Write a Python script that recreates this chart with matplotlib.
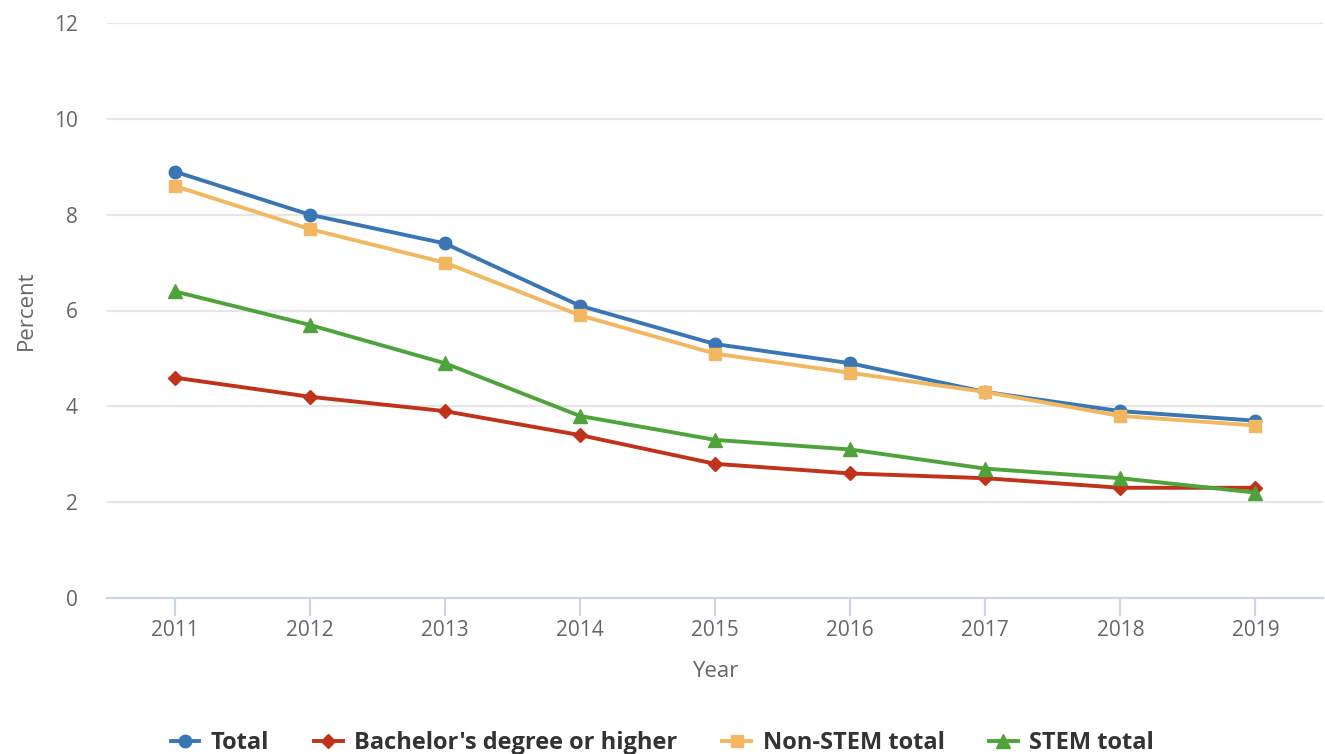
import matplotlib
matplotlib.use("Agg")
from matplotlib import pyplot as plt

years = ["2011", "2012", "2013", "2014", "2015", "2016", "2017", "2018", "2019"]
total = [8.9, 8.0, 7.4, 6.1, 5.3, 4.9, 4.3, 3.9, 3.7]
bachelor = [4.6, 4.2, 3.9, 3.4, 2.8, 2.6, 2.5, 2.3, 2.3]
non_stem = [8.6, 7.7, 7.0, 5.9, 5.1, 4.7, 4.3, 3.8, 3.6]
stem = [6.4, 5.7, 4.9, 3.8, 3.3, 3.1, 2.7, 2.5, 2.2]

plt.rcParams["font.family"] = ["Open Sans", "DejaVu Sans"]

fig = plt.figure(figsize=(13.25, 7.54), dpi=100)
ax = fig.add_axes([107 / 1325, 156 / 754, 1216 / 1325, 575 / 754])

x = list(range(len(years)))
series = [
    ("Total", total, "#3a76b4", "o", 9),
    ("Bachelor's degree or higher", bachelor, "#c0321a", "D", 7),
    ("Non-STEM total", non_stem, "#f2b760", "s", 8.5),
    ("STEM total", stem, "#4fa33b", "^", 10),
]
for i, (name, vals, color, marker, ms) in enumerate(series):
    ax.plot(x, vals, color=color, lw=2.8, marker=marker, markersize=ms,
            label=name, zorder=3 + i, clip_on=False)

ax.set_xlim(-0.5, len(years) - 0.5)
ax.set_ylim(0, 12)
ax.set_yticks([0, 2, 4, 6, 8, 10, 12])
ax.set_xticks(x)
ax.set_xticklabels(years)

ax.grid(axis="y", color="#e6e6e6", lw=1.6)
ax.set_axisbelow(True)
for s in ["top", "right", "left"]:
    ax.spines[s].set_visible(False)
ax.spines["bottom"].set_color("#ccd6eb")
ax.spines["bottom"].set_linewidth(1.6)

ax.tick_params(axis="y", length=0, pad=21, labelsize=15, labelcolor="#666666")
ax.tick_params(axis="x", length=13, width=1.6, color="#ccd6eb", pad=3,
               labelsize=15, labelcolor="#666666")

ax.set_xlabel("Year", fontsize=16, color="#666666", labelpad=14)
ax.set_ylabel("Percent", fontsize=16, color="#666666", labelpad=12)

fig.legend(loc="lower center", bbox_to_anchor=(0.5, -0.03), ncol=4,
           frameon=False, handlelength=1.2, columnspacing=1.9, handletextpad=0.5,
           prop={"size": 17, "weight": "bold"}, labelcolor="#333333")

fig.savefig("out.png", dpi=100)
